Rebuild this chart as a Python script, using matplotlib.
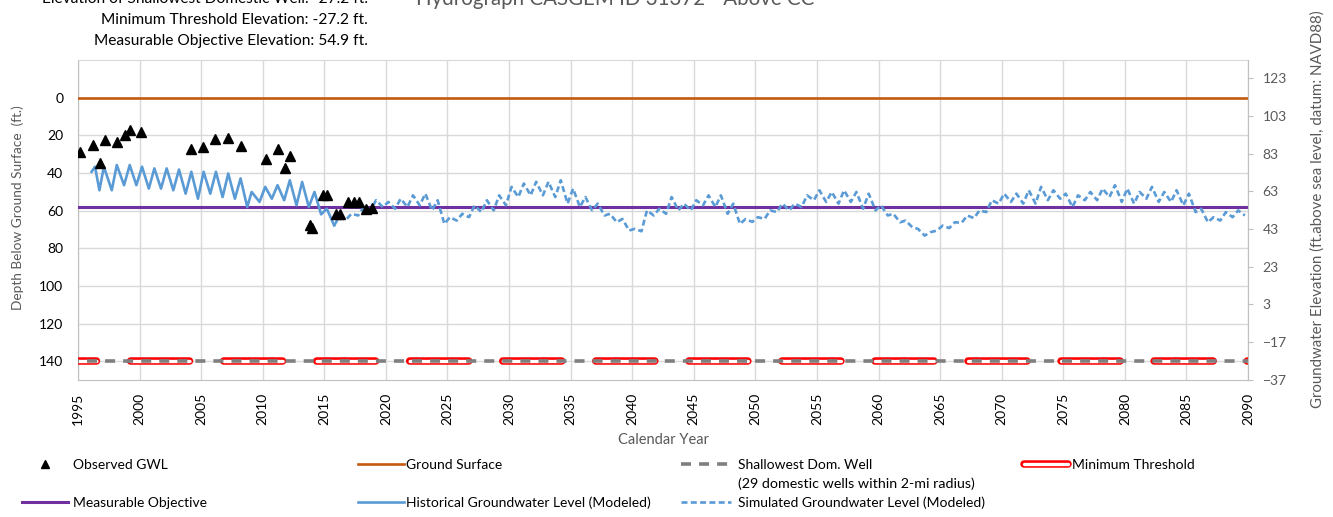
import matplotlib
matplotlib.use("Agg")
import matplotlib.pyplot as plt
from matplotlib.lines import Line2D

plt.rcParams['font.family'] = ['Lato', 'DejaVu Sans']
plt.rcParams['lines.scale_dashes'] = False

W, H = 1333, 517

# elevations (ft, NAVD88)
ground_surface_elev = 112.8
min_threshold_elev = -27.2
measurable_objective_elev = 54.9
shallow_well_elev = -27.2

x_ticks = [1995, 2000, 2005, 2010, 2015, 2020, 2025, 2030, 2035, 2040,
           2045, 2050, 2055, 2060, 2065, 2070, 2075, 2080, 2085, 2090]
depth_ticks = [0, 20, 40, 60, 80, 100, 120, 140]
elev_ticks = [-37, -17, 3, 23, 43, 63, 83, 103, 123]

# observed groundwater levels (depth below ground surface, ft)
obs_year = [1995.2, 1996.25, 1996.8, 1997.2, 1998.2, 1998.8, 1999.2, 2000.15,
            2004.2, 2005.15, 2006.15, 2007.15, 2008.25, 2010.3, 2011.2, 2011.8,
            2012.2, 2013.8, 2014.0, 2014.9, 2015.25, 2015.95, 2016.3, 2016.9,
            2017.4, 2017.85, 2018.4, 2018.9]
obs_depth = [28.7, 25.1, 34.9, 22.5, 23.3, 19.8, 17.1, 18.5,
             27.4, 26.4, 22.1, 21.7, 25.5, 32.4, 27.4, 37.2,
             30.8, 67.9, 69.1, 51.9, 51.9, 62.0, 61.7, 55.4,
             55.4, 55.4, 59.4, 58.7]

# historical modeled (seasonal high / low)
hist_year = [1996.1, 1996.38, 1996.74, 1997.1, 1997.74, 1998.15, 1998.74, 1999.2, 1999.74,
             2000.2, 2000.75, 2001.2, 2001.74, 2002.2, 2002.74, 2003.2, 2003.74,
             2004.2, 2004.74, 2005.2, 2005.74, 2006.2, 2006.74, 2007.2, 2007.74,
             2008.2, 2008.74, 2009.1, 2009.74, 2010.2, 2010.74, 2011.2, 2011.74,
             2012.2, 2012.74, 2013.2, 2013.74, 2014.2, 2014.74, 2015.2, 2015.8]
hist_depth = [39.4, 36.7, 49.2, 36.7, 49.2, 35.8, 46.5, 35.8, 46.5,
              36.7, 48.3, 37.6, 48.3, 37.6, 49.2, 38.2, 51.0,
              39.4, 53.7, 39.4, 51.0, 39.4, 52.8, 40.3, 53.7,
              42.9, 58.1, 50.1, 55.4, 47.4, 53.7, 46.5, 54.5,
              43.9, 57.2, 44.8, 58.1, 50.1, 62.0, 59.0, 67.9]

# simulated modeled (seasonal high / low)
sim_year = [2015.8,
            2016.2, 2016.75, 2017.2, 2017.75, 2018.2, 2018.75, 2019.2, 2019.75,
            2020.2, 2020.75, 2021.2, 2021.75, 2022.2, 2022.75, 2023.2, 2023.75,
            2024.2, 2024.75, 2025.2, 2025.75, 2026.2, 2026.75, 2027.2, 2027.75,
            2028.2, 2028.75, 2029.2, 2029.75, 2030.2, 2030.75, 2031.2, 2031.75,
            2032.2, 2032.75, 2033.2, 2033.75, 2034.2, 2034.75, 2035.2, 2035.75,
            2036.2, 2036.75, 2037.2, 2037.75, 2038.2, 2038.75, 2039.2, 2039.75,
            2040.2, 2040.75, 2041.2, 2041.75, 2042.2, 2042.75, 2043.2, 2043.75,
            2044.2, 2044.75, 2045.2, 2045.75, 2046.2, 2046.75, 2047.2, 2047.75,
            2048.2, 2048.75, 2049.2, 2049.75, 2050.2, 2050.75, 2051.2, 2051.75,
            2052.2, 2052.75, 2053.2, 2053.75, 2054.2, 2054.75, 2055.2, 2055.75,
            2056.2, 2056.75, 2057.2, 2057.75, 2058.2, 2058.75, 2059.2, 2059.75,
            2060.2, 2060.75, 2061.2, 2061.75, 2062.2, 2062.75, 2063.2, 2063.75,
            2064.2, 2064.75, 2065.2, 2065.75, 2066.2, 2066.75, 2067.2, 2067.75,
            2068.2, 2068.75, 2069.2, 2069.75, 2070.2, 2070.75, 2071.2, 2071.75,
            2072.2, 2072.75, 2073.2, 2073.75, 2074.2, 2074.75, 2075.2, 2075.75,
            2076.2, 2076.75, 2077.2, 2077.75, 2078.2, 2078.75, 2079.2, 2079.75,
            2080.2, 2080.75, 2081.2, 2081.75, 2082.2, 2082.75, 2083.2, 2083.75,
            2084.2, 2084.75, 2085.2, 2085.75, 2086.2, 2086.75, 2087.2, 2087.75,
            2088.2, 2088.75, 2089.2, 2089.75]
sim_depth = [67.9,
             63.5, 65.0, 61.7, 62.6, 58.1, 59.9, 54.5, 58.1,
             55.4, 59.0, 53.7, 58.1, 51.9, 57.2, 51.0, 59.9,
             54.5, 67.1, 63.5, 65.3, 61.7, 63.5, 57.2, 60.8,
             54.5, 59.9, 51.9, 57.2, 47.4, 52.8, 45.6, 51.9,
             44.7, 51.9, 44.7, 52.8, 43.9, 56.3, 48.3, 58.1,
             52.8, 59.9, 56.3, 62.6, 61.7, 66.2, 64.4, 70.6,
             69.7, 71.0, 59.9, 62.6, 59.0, 61.7, 52.8, 59.9,
             56.3, 59.9, 54.5, 57.2, 51.9, 58.1, 51.9, 61.7,
             56.3, 67.1, 64.5, 66.0, 63.5, 64.4, 59.9, 60.8,
             56.3, 59.9, 56.3, 58.1, 51.9, 54.5, 49.2, 55.4,
             50.1, 56.3, 49.2, 55.4, 50.1, 59.0, 51.0, 59.9,
             57.2, 62.6, 61.7, 66.2, 65.3, 68.9, 69.7, 73.3,
             71.5, 70.6, 68.0, 69.3, 66.2, 66.5, 62.6, 64.0,
             59.9, 60.8, 54.5, 56.3, 51.0, 55.4, 51.0, 56.3,
             49.2, 56.3, 47.4, 54.5, 49.2, 53.7, 51.0, 58.1,
             51.9, 54.5, 50.1, 54.5, 48.3, 52.8, 46.5, 55.4,
             48.3, 56.3, 50.1, 53.7, 47.4, 55.4, 50.1, 55.4,
             49.2, 57.2, 51.0, 60.8, 59.0, 66.2, 63.5, 65.3,
             60.8, 63.5, 59.9, 62.6]

orange = '#C55A11'
purple = '#7030A0'
blue = '#5B9BD5'
gray = '#7F7F7F'
red = '#FF0000'
grid_c = '#D9D9D9'
spine_c = '#BFBFBF'
text_gray = '#595959'

mt_style = (29.2, (42.5, 24.5))
well_style = (6.5, (7.2, 5.8))
sim_style = (0, (4.3, 2.4))


def fx(px):
    return px / W


def fy(py):
    return 1 - py / H


fig = plt.figure(figsize=(W / 100, H / 100), dpi=100)
ax = fig.add_axes([fx(78), fy(380), (1248 - 78) / W, 320 / H])

x_span = [x_ticks[0], x_ticks[-1]]
gs_depth = ground_surface_elev - ground_surface_elev
mo_depth = ground_surface_elev - measurable_objective_elev
mt_depth = ground_surface_elev - min_threshold_elev
well_depth = ground_surface_elev - shallow_well_elev

ax.plot(x_span, [gs_depth, gs_depth], color=orange, lw=1.9, zorder=3)
ax.plot(x_span, [mo_depth, mo_depth], color=purple, lw=2.2, zorder=3)
ax.plot(x_span, [mt_depth, mt_depth], color=red, lw=5.4, ls=mt_style,
        dash_capstyle='round', zorder=3)
ax.plot(x_span, [mt_depth, mt_depth], color='white', lw=2.4, ls=mt_style,
        dash_capstyle='round', zorder=3.1)
ax.plot(x_span, [well_depth, well_depth], color=gray, lw=2.6, ls=well_style,
        dash_capstyle='butt', zorder=3.2)
ax.plot(hist_year, hist_depth, color=blue, lw=1.9, zorder=4)
ax.plot(sim_year, sim_depth, color=blue, lw=1.9, ls=sim_style, zorder=4)
ax.plot(obs_year, obs_depth, ls='none', marker='^', ms=7.5, color='black', zorder=5)

ax.set_xlim(x_span)
ax.set_ylim(150, -20)
ax.set_xticks(x_ticks)
ax.set_xticklabels([str(t) for t in x_ticks], rotation=90)
ax.set_yticks(depth_ticks)
ax.grid(True, color=grid_c, lw=1, zorder=0)
ax.tick_params(axis='x', length=0, pad=9, labelsize=10, labelcolor='black')
ax.tick_params(axis='y', length=0, pad=10.5, labelsize=10, labelcolor='black')
for side in ['left', 'bottom']:
    ax.spines[side].set_color(spine_c)
ax.spines['top'].set_color(grid_c)
ax.spines['right'].set_visible(False)

ax2 = ax.twinx()
ax2.set_ylim(ground_surface_elev - 150, ground_surface_elev + 20)
ax2.set_yticks(elev_ticks)
ax2.tick_params(axis='y', length=3.6, color=spine_c, pad=7, labelsize=10,
                labelcolor=text_gray)
for side in ['left', 'top', 'bottom']:
    ax2.spines[side].set_visible(False)
ax2.spines['right'].set_color(spine_c)

ax.set_ylabel('Depth Below Ground Surface  (ft.)', fontsize=9.8, color=text_gray)
ax.yaxis.set_label_coords((18 - 78) / 1170, (380 - 207.5) / 320)
ax.yaxis.label.set_va('center')
ax2.set_ylabel('Groundwater Elevation (ft.above sea level, datum: NAVD88)',
               fontsize=10.8, color=text_gray)
ax2.yaxis.set_label_coords((1318 - 78) / 1170, (380 - 209) / 320)
ax2.yaxis.label.set_va('center')
ax.set_xlabel('Calendar Year', fontsize=10.5, color=text_gray)
ax.xaxis.set_label_coords(0.5, (380 - 440) / 320)
ax.xaxis.label.set_va('center')

fig.text(fx(615), fy(5), 'Hydrograph CASGEM ID 31372 - Above CC', ha='center',
         va='baseline', fontsize=14.8, color=text_gray)
fig.text(fx(368), fy(3), f'Elevation of Shallowest Domestic Well: {shallow_well_elev} ft.',
         ha='right', va='baseline', fontsize=11.2)
fig.text(fx(368), fy(24), f'Minimum Threshold Elevation: {min_threshold_elev} ft.',
         ha='right', va='baseline', fontsize=11.2)
fig.text(fx(368), fy(45), f'Measurable Objective Elevation: {measurable_objective_elev} ft.',
         ha='right', va='baseline', fontsize=11.2)

# legend, one block per column
fs = 10


def legend_col(handles, labels, x0, hlen, xtext):
    leg = fig.legend(handles, labels, loc='upper left',
                     bbox_to_anchor=(fx(x0), fy(459)), bbox_transform=fig.transFigure,
                     frameon=False, borderpad=0, borderaxespad=0, fontsize=fs,
                     handlelength=hlen * 0.72 / fs,
                     handletextpad=(xtext - x0 - hlen) * 0.72 / fs,
                     labelspacing=1.85, numpoints=1)
    return leg


h_obs = Line2D([], [], ls='none', marker='^', ms=6, color='black')
h_mo = Line2D([], [], color=purple, lw=2.2)
h_gs = Line2D([], [], color=orange, lw=1.9)
h_hist = Line2D([], [], color=blue, lw=1.9)
h_well = Line2D([], [], color=gray, lw=2.6, ls=(0, (7.2, 5.8)))
h_sim = Line2D([], [], color=blue, lw=1.9, ls=sim_style)
h_mt = (Line2D([], [], color=red, lw=5.4, solid_capstyle='round'),
        Line2D([], [], color='white', lw=2.4, solid_capstyle='round'))

legend_col([h_obs, h_mo], ['Observed GWL', 'Measurable Objective'], 22, 46, 73)
legend_col([h_gs, h_hist], ['Ground Surface', 'Historical Groundwater Level (Modeled)'],
           358, 46, 406)
legend_col([h_well, h_sim], ['Shallowest Dom. Well', 'Simulated Groundwater Level (Modeled)'],
           681, 50, 738)
legend_col([h_mt], ['Minimum Threshold'], 1024, 44, 1072)
fig.text(fx(738), fy(484), '(29 domestic wells within 2-mi radius)', va='center',
         fontsize=10.3)

fig.savefig('out.png', dpi=100)
